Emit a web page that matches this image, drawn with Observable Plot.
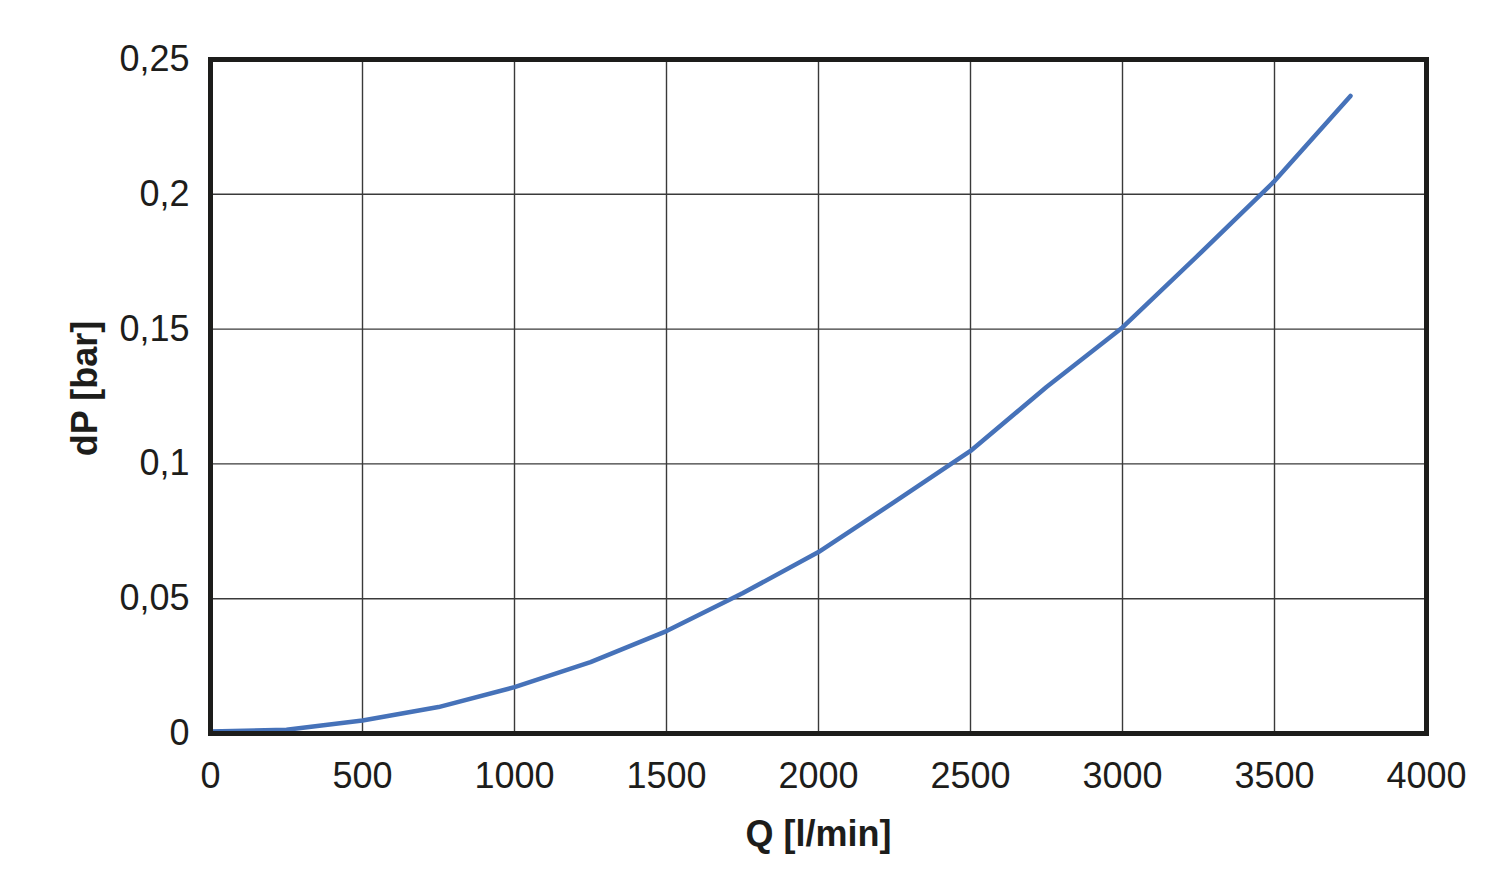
<!DOCTYPE html>
<html>
<head>
<meta charset="utf-8">
<script src="https://cdn.jsdelivr.net/npm/d3@7"></script>
<script src="https://cdn.jsdelivr.net/npm/@observablehq/plot@0.6"></script>
<style>
  html, body { margin: 0; padding: 0; background: #fff; }
  #chart svg { display: block; }
</style>
</head>
<body>
<div id="chart"></div>
<script>
const flow = [0, 250, 500, 750, 1000, 1250, 1500, 1750, 2000, 2250, 2500, 2750, 3000, 3250, 3500, 3750];
const dp = [0.0007, 0.0014, 0.0048, 0.0098, 0.0172, 0.0265, 0.038, 0.052, 0.0673, 0.0859, 0.1048, 0.1285, 0.1506, 0.1775, 0.2049, 0.2365];
const xTicks = [0, 500, 1000, 1500, 2000, 2500, 3000, 3500, 4000];
const yTicks = [0, 0.05, 0.1, 0.15, 0.2, 0.25];
const xLabel = "Q [l/min]";
const yLabel = "dP [bar]";

const data = flow.map((q, i) => ({q, p: dp[i]}));
const fmt = d => String(d).replace(".", ",");

const chart = Plot.plot({
  width: 1500,
  height: 879,
  marginLeft: 210,
  marginRight: 74,
  marginTop: 59,
  marginBottom: 146,
  style: {fontFamily: "'Liberation Sans', Arial, sans-serif", color: "#1d1d1b", background: "#fff"},
  x: {domain: [0, 4000]},
  y: {domain: [0, 0.25]},
  marks: [
    Plot.gridX(xTicks, {stroke: "#3a3a3a", strokeOpacity: 1, strokeWidth: 1.4}),
    Plot.gridY(yTicks, {stroke: "#3a3a3a", strokeOpacity: 1, strokeWidth: 1.4}),
    Plot.line(data, {x: "q", y: "p", stroke: "#4672b9", strokeWidth: 4.5}),
    Plot.frame({stroke: "#1d1d1b", strokeWidth: 5}),
    Plot.axisX(xTicks, {tickSize: 0, tickPadding: 29, fontSize: 36, tickFormat: fmt, label: null, fill: "#1d1d1b"}),
    Plot.axisY(yTicks, {tickSize: 0, tickPadding: 21, fontSize: 36, tickFormat: fmt, label: null, fill: "#1d1d1b"}),
    Plot.text([xLabel], {frameAnchor: "bottom", dy: 101, lineAnchor: "middle", textAnchor: "middle", fontSize: 36, fontWeight: "bold", fill: "#1d1d1b", text: d => d}),
    Plot.text([yLabel], {frameAnchor: "left", dx: -125, dy: -8, rotate: -90, lineAnchor: "middle", textAnchor: "middle", fontSize: 36, fontWeight: "bold", fill: "#1d1d1b", text: d => d})
  ]
});
document.getElementById("chart").appendChild(chart);
</script>
</body>
</html>
